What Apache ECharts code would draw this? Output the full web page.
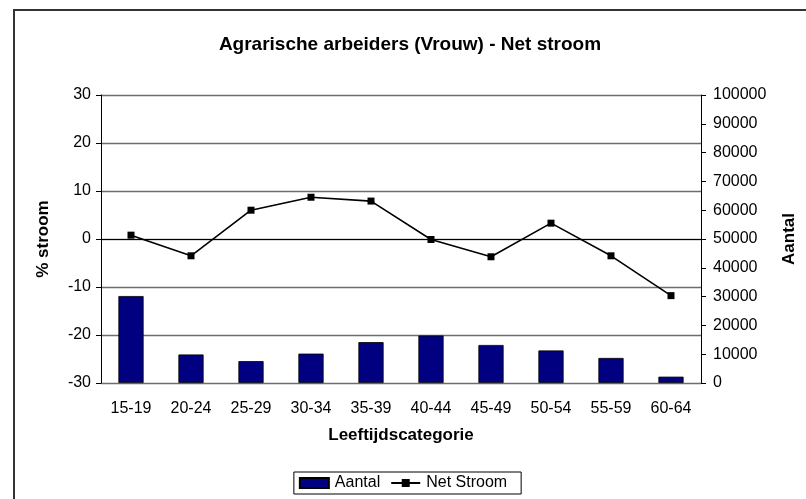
<!DOCTYPE html>
<html>
<head>
<meta charset="utf-8">
<script src="https://cdn.jsdelivr.net/npm/echarts@6/dist/echarts.min.js"></script>
<style>
  html, body { margin: 0; padding: 0; background: #fff; }
  #myChart { width: 806px; height: 499px; }
</style>
</head>
<body>
<div id="myChart"></div>
<script>
const categories = ["15-19", "20-24", "25-29", "30-34", "35-39", "40-44", "45-49", "50-54", "55-59", "60-64"];
const aantal = [30200, 9900, 7600, 10200, 14200, 16500, 13200, 11300, 8700, 2200];
const netStroom = [0.8, -3.5, 6.0, 8.7, 7.9, -0.1, -3.7, 3.3, -3.5, -11.8];

const font = "Liberation Sans, Arial, sans-serif";

let el = document.getElementById("myChart");
let myChart = echarts.init(el);

let option = {
  animation: false,
  backgroundColor: "#fff",
  textStyle: { fontFamily: font },
  graphic: [
    {
      type: "rect",
      shape: { x: 14, y: 10, width: 800, height: 500 },
      style: { fill: "none", stroke: "#333", lineWidth: 2 },
      silent: true,
      z: -1,
    },
  ],
  title: {
    text: "Agrarische arbeiders (Vrouw) - Net stroom",
    left: 405,
    textAlign: "center",
    top: 30,
    textStyle: { fontSize: 19, fontWeight: "bold", color: "#000", fontFamily: font },
  },
  legend: {
    bottom: 5,
    left: "center",
    data: [{ name: "Aantal", icon: "rect" }, "Net Stroom"],
    itemWidth: 29,
    itemHeight: 10,
    itemGap: 10,
    padding: [3, 14, 3, 5],
    borderColor: "#000",
    borderWidth: 1,
    borderRadius: 0,
    textStyle: { fontSize: 16, color: "#000", fontFamily: font, padding: [0, 0, 0, 1] },
  },
  grid: {
    left: 101,
    right: 104,
    top: 95,
    bottom: 116,
  },
  xAxis: {
    type: "category",
    data: categories,
    boundaryGap: true,
    name: "Leeftijdscategorie",
    nameLocation: "middle",
    nameGap: 44,
    nameTextStyle: { fontSize: 17, fontWeight: "bold", color: "#000" },
    axisLine: { lineStyle: { color: "#000", width: 1 } },
    axisTick: { length: 5, lineStyle: { color: "#000" } },
    axisLabel: { fontSize: 16, color: "#000", margin: 18 },
  },
  yAxis: [
    {
      type: "value",
      min: -30,
      max: 30,
      interval: 10,
      name: "% stroom",
      nameLocation: "middle",
      nameGap: 49,
      nameTextStyle: { fontSize: 17, fontWeight: "bold", color: "#000" },
      axisLine: { show: true, lineStyle: { color: "#000", width: 1 } },
      axisTick: { show: true, length: 5, lineStyle: { color: "#000" } },
      axisLabel: { fontSize: 16, color: "#000", margin: 10 },
      splitLine: { show: true, lineStyle: { color: "#6e6e6e", width: 1.4 } },
    },
    {
      type: "value",
      min: 0,
      max: 100000,
      interval: 10000,
      name: "Aantal",
      nameLocation: "middle",
      nameGap: 80,
      nameTextStyle: { fontSize: 17, fontWeight: "bold", color: "#000" },
      axisLine: { show: true, lineStyle: { color: "#000", width: 1 } },
      axisTick: { show: true, length: 5, lineStyle: { color: "#000" } },
      axisLabel: { fontSize: 16, color: "#000", margin: 12, formatter: (v) => String(v) },
      splitLine: { show: false },
    },
  ],
  series: [
    {
      name: "Aantal",
      type: "bar",
      yAxisIndex: 1,
      data: aantal,
      barWidth: "42%",
      itemStyle: { color: "#000080", borderColor: "#000", borderWidth: 0.8 },
    },
    {
      name: "Net Stroom",
      type: "line",
      yAxisIndex: 0,
      data: netStroom,
      symbol: "rect",
      symbolSize: 7,
      lineStyle: { color: "#000", width: 1.6 },
      itemStyle: { color: "#000" },
      markLine: {
        silent: true,
        symbol: "none",
        label: { show: false },
        lineStyle: { color: "#000", width: 1, type: "solid" },
        data: [{ yAxis: 0 }],
      },
      z: 3,
    },
  ],
};
myChart.setOption(option);
</script>
</body>
</html>
